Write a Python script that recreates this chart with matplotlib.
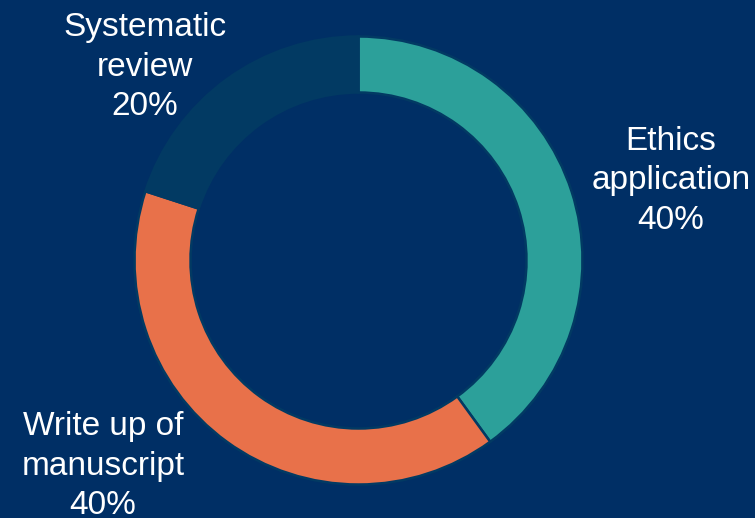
import matplotlib.pyplot as plt

plt.rcParams['font.family'] = ['Liberation Sans', 'DejaVu Sans']

# Data
labels = ['Ethics\napplication', 'Write up of\nmanuscript', 'Systematic\nreview']
shares = [40, 40, 20]
colors = ['#2CA09A', '#E8714A', '#023A63']
bg = '#002F65'

# label anchor positions in pixels (x, y from top)
label_pos = [(671, 181), (103, 466), (145, 67)]

W, H = 755, 518
fig = plt.figure(figsize=(W / 100, H / 100), dpi=100, facecolor=bg)
ax = fig.add_axes([0, 0, 1, 1])
ax.set_facecolor(bg)

cx, cy, r = 358.5, H - 260.5, 224
ax.pie(shares, colors=colors, startangle=90, counterclock=False,
       center=(cx, cy), radius=r, frame=True,
       wedgeprops=dict(width=56, edgecolor='#023A63', linewidth=1.8))
ax.set_xlim(0, W)
ax.set_ylim(0, H)
ax.set_aspect('equal')
ax.axis('off')

for lab, s, (px, py) in zip(labels, shares, label_pos):
    ax.text(px, H - py, f'{lab}\n{s}%', ha='center', va='center',
            color='white', fontsize=24, linespacing=1.34)

fig.savefig('out.png', dpi=100, facecolor=bg)
